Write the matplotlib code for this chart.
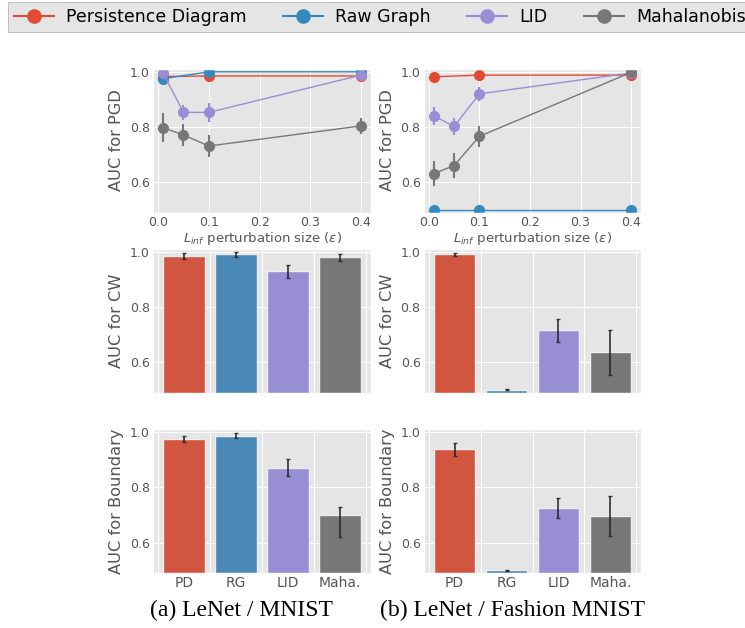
import matplotlib
matplotlib.use("Agg")
import matplotlib.pyplot as plt
from matplotlib.lines import Line2D

plt.style.use("ggplot")

methods = ["Persistence Diagram", "Raw Graph", "LID", "Mahalanobis"]
short_names = ["PD", "RG", "LID", "Maha."]
line_colors = ["#E24A33", "#348ABD", "#988ED5", "#777777"]
bar_colors = ["#D1553F", "#4A88B8", "#978ED3", "#777777"]

eps_full = [0.01, 0.05, 0.1, 0.4]
eps_part = [0.01, 0.1, 0.4]

# PGD, LeNet / MNIST
mnist_pgd_pd = [0.983, 0.985, 0.985]
mnist_pgd_rg = [0.975, 1.0, 1.0]
mnist_pgd_lid = [0.994, 0.853, 0.853, 0.988]
mnist_pgd_lid_err = [0.005, 0.027, 0.035, 0.005]
mnist_pgd_maha = [0.797, 0.771, 0.731, 0.804]
mnist_pgd_maha_err = [0.053, 0.039, 0.041, 0.028]

# PGD, LeNet / Fashion MNIST
fmnist_pgd_pd = [0.982, 0.988, 0.988]
fmnist_pgd_rg = [0.5, 0.5, 0.5]
fmnist_pgd_lid = [0.840, 0.802, 0.920, 0.996]
fmnist_pgd_lid_err = [0.034, 0.032, 0.024, 0.004]
fmnist_pgd_maha = [0.631, 0.660, 0.766, 0.998]
fmnist_pgd_maha_err = [0.046, 0.045, 0.037, 0.003]

# CW
mnist_cw = [0.986, 0.991, 0.929, 0.980]
mnist_cw_err = [0.011, 0.009, 0.024, 0.013]
fmnist_cw = [0.991, 0.5, 0.715, 0.636]
fmnist_cw_err = [0.005, 0.001, 0.041, 0.082]

# Boundary
mnist_bd = [0.976, 0.988, 0.871, 0.699]
mnist_bd_err_lo = [0.011, 0.009, 0.030, 0.080]
mnist_bd_err_hi = [0.011, 0.009, 0.033, 0.030]
fmnist_bd = [0.939, 0.5, 0.725, 0.696]
fmnist_bd_err = [0.024, 0.001, 0.036, 0.073]

W, H = 745, 628
fig = plt.figure(figsize=(W / 100, H / 100), dpi=100)


def px_axes(x0, top, w, h):
    return fig.add_axes([x0 / W, 1 - (top + h) / H, w / W, h / H])


cols = [(153.3, 217.7), (424.0, 217.0)]
tops = [68.5, 248.5, 429.0]
ah = 144.0


def style(ax, ylabel):
    ax.set_ylim(0.49, 1.012)
    ax.set_yticks([0.6, 0.8, 1.0])
    ax.set_yticklabels(["0.6", "0.8", "1.0"])
    ax.tick_params(axis="both", length=0, pad=2.5, labelsize=9, colors="#555555")
    ax.set_ylabel(ylabel, fontsize=11.7, color="#555555", labelpad=4)


def pgd_panel(ax, pd, rg, lid, lid_err, maha, maha_err):
    ax.errorbar(eps_part, pd, color=line_colors[0], marker="o", ms=7, lw=1)
    ax.errorbar(eps_part, rg, color=line_colors[1], marker="o", ms=7, lw=1)
    ax.errorbar(eps_full, lid, yerr=lid_err, color=line_colors[2], marker="o",
                ms=7, lw=1, elinewidth=1.5, capsize=0)
    ax.errorbar(eps_full, maha, yerr=maha_err, color=line_colors[3], marker="o",
                ms=7, lw=1, elinewidth=1.5, capsize=0)
    ax.set_xticks([0.0, 0.1, 0.2, 0.3, 0.4])
    ax.set_xticklabels(["0.0", "0.1", "0.2", "0.3", "0.4"])
    ax.set_xlabel(r"$L_{inf}$ perturbation size ($\varepsilon$)", fontsize=9.5,
                  color="#555555", labelpad=1)
    style(ax, "AUC for PGD")


def bar_panel(ax, vals, err, ylabel, show_labels):
    pos = list(range(len(vals)))
    ax.bar(pos, vals, width=0.8, color=bar_colors, edgecolor="#EEEEEE", linewidth=1,
           yerr=err, error_kw=dict(ecolor="#222222", elinewidth=1.3, capsize=1.5, alpha=0.85))
    ax.set_xticks(pos)
    ax.set_xticks([p + 0.5 for p in [-1] + pos], minor=True)
    ax.grid(False, axis="x", which="major")
    ax.grid(True, axis="x", which="minor", color="white")
    ax.tick_params(axis="x", which="minor", length=0)
    if show_labels:
        ax.set_xticklabels(short_names)
    else:
        ax.set_xticklabels([])
    style(ax, ylabel)
    ax.tick_params(axis="x", labelsize=10)


ax = px_axes(cols[0][0], tops[0], cols[0][1], ah)
pgd_panel(ax, mnist_pgd_pd, mnist_pgd_rg, mnist_pgd_lid, mnist_pgd_lid_err,
          mnist_pgd_maha, mnist_pgd_maha_err)
ax = px_axes(cols[1][0], tops[0], cols[1][1], ah)
pgd_panel(ax, fmnist_pgd_pd, fmnist_pgd_rg, fmnist_pgd_lid, fmnist_pgd_lid_err,
          fmnist_pgd_maha, fmnist_pgd_maha_err)

ax = px_axes(cols[0][0], tops[1], cols[0][1], ah)
bar_panel(ax, mnist_cw, mnist_cw_err, "AUC for CW", False)
ax = px_axes(cols[1][0], tops[1], cols[1][1], ah)
bar_panel(ax, fmnist_cw, fmnist_cw_err, "AUC for CW", False)

ax = px_axes(cols[0][0], tops[2], cols[0][1], ah)
bar_panel(ax, mnist_bd, [mnist_bd_err_lo, mnist_bd_err_hi], "AUC for Boundary", True)
ax = px_axes(cols[1][0], tops[2], cols[1][1], ah)
bar_panel(ax, fmnist_bd, fmnist_bd_err, "AUC for Boundary", True)

handles = [Line2D([], [], color=c, marker="o", ms=9.5, lw=1.5) for c in line_colors]
fig.legend(handles, methods, loc="upper left", bbox_to_anchor=(8 / W, 1 - 2 / H),
           ncol=4, fontsize=12.5, frameon=True, edgecolor="#AAAAAA", fancybox=False,
           framealpha=1, columnspacing=2.1, handlelength=2.3, handletextpad=0.7,
           borderpad=0.35, borderaxespad=0)

fig.text(241 / W, 1 - 610 / H, "(a) LeNet / MNIST", ha="center", va="center",
         family="Liberation Serif", fontsize=17)
fig.text(513 / W, 1 - 610 / H, "(b) LeNet / Fashion MNIST", ha="center", va="center",
         family="Liberation Serif", fontsize=17)

fig.savefig("out.png", dpi=100)
